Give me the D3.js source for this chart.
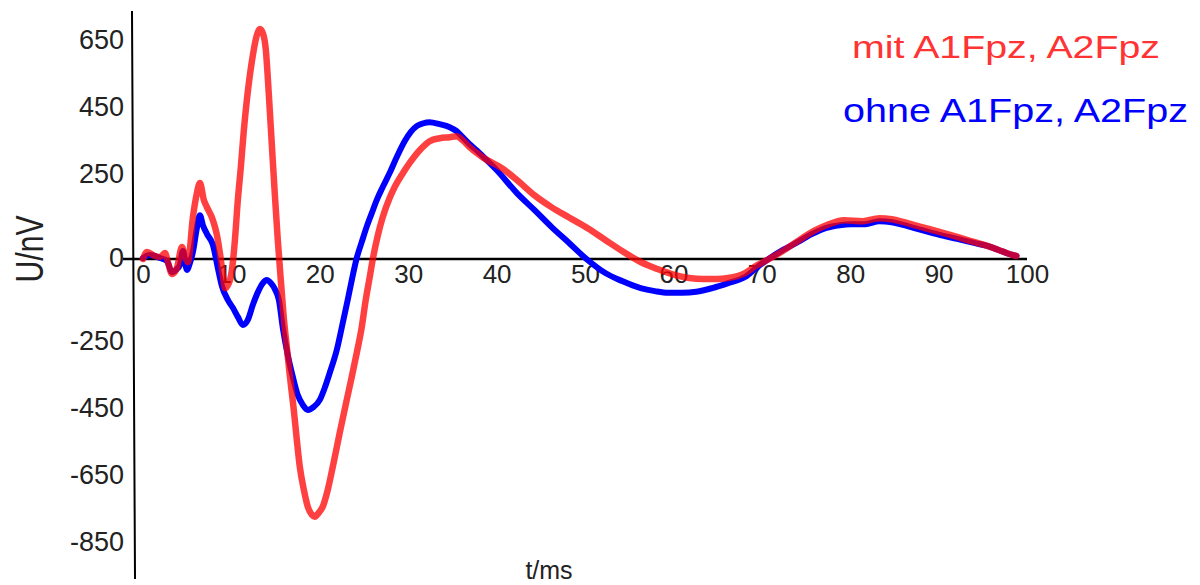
<!DOCTYPE html>
<html>
<head>
    <meta charset="utf-8">
    <title>U/nV über t/ms</title>
    <script src="https://cdn.jsdelivr.net/npm/d3@7"></script>
    <style>
        body {
            margin: 0;
            background: #fff;
        }

        svg text {
            font-family: "Liberation Sans", Arial, sans-serif;
        }

        .axis .domain {
            display: none;
        }

        .axis text {
            fill: #222;
        }
    </style>
</head>
<body>
<svg id="chart" width="1200" height="585"></svg>

<script>
    // t in ms, U in nV
    var tMit = [0, 0.45, 1.36, 1.92, 2.49, 2.82, 3.28, 3.84, 4.41, 4.75, 5.08, 5.65, 6.1, 6.44, 6.89, 7.23,
        7.91, 8.36, 8.7, 9.04, 9.27, 9.72, 10.06, 10.4, 10.73, 11.07, 11.41, 11.75, 12.09, 12.43, 12.88, 13.22,
        13.56, 13.9, 14.24, 14.58, 14.92, 15.25, 15.59, 15.93, 16.27, 16.6, 17.06, 17.4, 17.74, 18.2, 18.64,
        19.1, 19.43, 19.89, 20.34, 20.9, 21.47, 22.26, 23.05, 23.62, 24.18, 24.75, 25.2, 25.65, 26.0, 26.55,
        27.12, 27.9, 28.47, 29.27, 30.17, 31.3, 32.43, 33.56, 34.7, 35.48, 36.16, 36.95, 38.42, 40.68, 42.3,
        44.3, 46.2, 48.2, 50.3, 52.3, 54.2, 56.3, 58.2, 60.2, 61.8, 63.4, 64.9, 66.2, 68.1, 69.5, 70.6, 72.2,
        74.6, 75.9, 77.3, 79.3, 81.4, 83.3, 84.7, 86.1, 88.0, 90.1, 92.1, 94.0, 95.5, 96.8, 98.0, 98.8];
    var uMit = [0, 21, 9, 6, 18, -9, -45, -27, 36, 6, -9, 125, 197, 227, 176, 155,
        116, 72, 18, -48, -87, -72, -33, 57, 176, 275, 385, 475, 549, 609, 669, 687,
        675, 624, 490, 340, 191, 57, -63, -176, -263, -346, -451, -540, -621, -690, -740,
        -764, -770, -758, -740, -690, -621, -519, -421, -352, -281, -203, -122, -54, 0, 69,
        125, 182, 215, 251, 287, 325, 352, 361, 364, 367, 355, 334, 304, 270, 236,
        190, 155, 124, 92, 57, 24, -9, -30, -48, -57, -60, -60, -57, -42, -18, -3, 21,
        63, 84, 101, 116, 113, 122, 119, 110, 96, 81, 66, 51, 39, 27, 15, 9];

    var tOhne = [0, 0.8, 1.92, 2.7, 3.28, 3.84, 4.18, 4.52, 4.97, 5.31, 5.65, 6.1, 6.44, 6.78, 7.23, 7.91,
        8.47, 8.93, 9.6, 10.17, 10.73, 11.3, 11.86, 12.43, 13.0, 13.56, 14.0, 14.46, 14.92, 15.37, 15.82,
        16.38, 16.95, 17.5, 18.08, 18.64, 19.32, 20.0, 20.56, 21.13, 21.92, 22.6, 23.16, 23.62, 24.18, 24.75,
        25.3, 25.88, 26.44, 27.12, 27.9, 28.8, 29.6, 30.3, 30.96, 31.64, 32.43, 33.56, 34.7, 35.48, 36.16,
        36.95, 37.74, 38.87, 40.0, 42.3, 44.3, 46.2, 48.2, 50.3, 52.3, 54.2, 56.3, 57.9, 59.4, 61.0, 62.6,
        64.4, 66.2, 68.1, 69.5, 70.6, 72.4, 74.1, 75.7, 77.3, 78.8, 80.1, 81.7, 83.3, 84.7, 86.1, 88.0, 90.1,
        92.1, 94.0, 95.5, 96.8, 98.0, 98.8];
    var uOhne = [3, 12, 3, -6, -39, -30, -18, 24, -33, -12, 21, 93, 131, 101, 75, 42,
        -27, -81, -122, -146, -173, -197, -182, -137, -99, -72, -63, -72, -90, -122, -206,
        -287, -352, -406, -436, -451, -442, -421, -385, -340, -272, -191, -122, -63, 3, 51,
        96, 137, 176, 215, 257, 310, 352, 380, 397, 405, 409, 403, 394, 382, 364,
        343, 325, 296, 266, 197, 146, 96, 48, -3, -42, -66, -87, -96, -101, -101, -98,
        -87, -72, -54, -24, -3, 27, 51, 75, 93, 101, 104, 104, 113, 110, 101, 87, 72,
        60, 48, 39, 27, 15, 9];

    var xTicks = [0, 10, 20, 30, 40, 50, 60, 70, 80, 90, 100];
    var yTicks = [650, 450, 250, 0, -250, -450, -650, -850];
    var seriesNames = ["mit A1Fpz, A2Fpz", "ohne A1Fpz, A2Fpz"];

    var red = "#ff3333",
        blue = "#0000ff";

    var svg = d3.select("#chart");

    // x axis line starts a bit left of t = 0
    var x = d3.scaleLinear().domain([-2.26, 100]).range([123, 1027]);
    var y = d3.scaleLinear().domain([0, 650]).range([259, 41.5]);

    var mit = tMit.map(function (t, i) { return [t, uMit[i]]; });
    var ohne = tOhne.map(function (t, i) { return [t, uOhne[i]]; });

    var line = d3.line()
        .x(function (d) { return x(d[0]); })
        .y(function (d) { return y(d[1]); })
        .curve(d3.curveMonotoneX);

    // plain hyphen for negatives, like the original
    var fmt = function (d) { return String(d); };

    // y axis (slightly slanted in the original)
    svg.append("line")
        .attr("x1", 132).attr("y1", 12)
        .attr("x2", 135).attr("y2", 578)
        .attr("stroke", "#000")
        .attr("stroke-width", 2)
        .attr("stroke-linecap", "square");

    var yAxis = svg.append("g")
        .attr("class", "axis")
        .attr("transform", "translate(131,0)")
        .call(d3.axisLeft(y).tickValues(yTicks).tickFormat(fmt).tickSize(0).tickPadding(7));
    yAxis.selectAll("text")
        .style("font-size", "27px")
        .attr("dy", "0.26em");

    // x axis
    svg.append("line")
        .attr("x1", x.range()[0]).attr("y1", y(0))
        .attr("x2", x.range()[1]).attr("y2", y(0))
        .attr("stroke", "#000")
        .attr("stroke-width", 2.6);

    var xAxis = svg.append("g")
        .attr("class", "axis")
        .attr("transform", "translate(0," + y(0) + ")")
        .call(d3.axisBottom(x).tickValues(xTicks).tickFormat(fmt).tickSize(0).tickPadding(6));
    xAxis.selectAll("text")
        .style("font-size", "26px");

    // curves
    svg.append("path")
        .datum(ohne)
        .attr("fill", "none")
        .attr("stroke", blue)
        .attr("stroke-width", 6)
        .attr("stroke-linejoin", "round")
        .attr("stroke-linecap", "round")
        .attr("d", line);

    svg.append("path")
        .datum(mit)
        .attr("fill", "none")
        .attr("stroke", "#ff0000")
        .attr("stroke-opacity", 0.75)
        .attr("stroke-width", 6.5)
        .attr("stroke-linejoin", "round")
        .attr("stroke-linecap", "round")
        .attr("d", line);

    // axis titles
    svg.append("text")
        .attr("transform", "translate(43,249) rotate(-90)")
        .attr("text-anchor", "middle")
        .attr("textLength", 67)
        .attr("lengthAdjust", "spacingAndGlyphs")
        .style("font-size", "38px")
        .attr("fill", "#222")
        .text("U/nV");

    svg.append("text")
        .attr("x", 549)
        .attr("y", 579)
        .attr("text-anchor", "middle")
        .style("font-size", "25px")
        .attr("fill", "#222")
        .text("t/ms");

    // legend
    svg.append("text")
        .attr("x", 852)
        .attr("y", 58)
        .attr("textLength", 308)
        .attr("lengthAdjust", "spacingAndGlyphs")
        .style("font-size", "32px")
        .attr("fill", red)
        .text(seriesNames[0]);

    svg.append("text")
        .attr("x", 843)
        .attr("y", 122)
        .attr("textLength", 345)
        .attr("lengthAdjust", "spacingAndGlyphs")
        .style("font-size", "33px")
        .attr("fill", blue)
        .text(seriesNames[1]);
</script>
</body>
</html>
